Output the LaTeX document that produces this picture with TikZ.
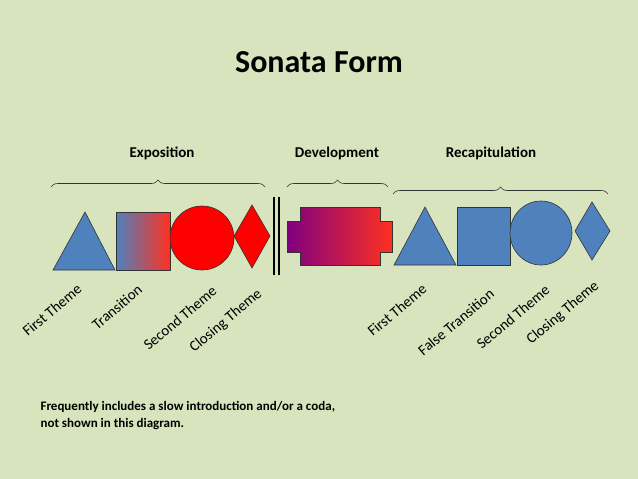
\documentclass[tikz,border=0pt]{standalone}
\usepackage{fontspec}
\setmainfont{Carlito}
\usetikzlibrary{shapes.geometric,decorations.pathreplacing}
\definecolor{bg}{HTML}{D7E4BD}
\definecolor{themeblue}{HTML}{4F81BD}
\definecolor{hotred}{HTML}{FF3020}
\definecolor{plum}{HTML}{800080}
\tikzset{
    outline/.style={draw=black!80,line width=0.6pt},
    bluefill/.style={outline,fill=themeblue},
    curly/.style={decorate,decoration={brace,amplitude=7pt},draw=black!80,line width=0.6pt},
    section/.style={font=\bfseries\fontsize{15}{18}\selectfont},
    partlabel/.style={font=\fontsize{15}{18}\selectfont,rotate=40,inner sep=0pt},
    }
\begin{document}
\begin{tikzpicture}[x=1pt,y=-1pt]
	\fill[bg] (0,0) rectangle (638,479);
	\useasboundingbox (0,0) rectangle (638,479);

	\node[font=\bfseries\fontsize{32}{38}\selectfont] (title) at (319,62) {Sonata Form};

	\node[section] (expo) at (162,153) {Exposition};
	\node[section] (devel) at (337,153) {Development};
	\node[section] (recap) at (491,153) {Recapitulation};

	% braces
	\draw[curly] (51,187) -- (265,187);
	\draw[curly] (287,187) -- (388,187);
	\draw[curly] (393,194) -- (608,194);

	% exposition
	\draw[bluefill] (85,212) -- (115,270) -- (53,270) -- cycle;
	\shade[left color=themeblue,right color=hotred] (116,212) rectangle (170,270);
	\draw[outline] (116,212) rectangle (170,270);
	\draw[outline,fill=red] (202,238) ellipse [x radius=32,y radius=32];
	\draw[outline,fill=red] (252,205) -- (270,236) -- (252,268) -- (234,236) -- cycle;

	% double bar
	\draw[line width=1.6pt] (274,197) -- (274,275);
	\draw[line width=1.6pt] (279,197) -- (279,275);

	% development
	\shade[left color=plum,right color=hotred]
		(287,221) -- (300,221) -- (300,207) -- (380,207) -- (380,221) -- (392,221)
		-- (392,252) -- (380,252) -- (380,265) -- (300,265) -- (300,252) -- (287,252) -- cycle;
	\draw[outline]
		(287,221) -- (300,221) -- (300,207) -- (380,207) -- (380,221) -- (392,221)
		-- (392,252) -- (380,252) -- (380,265) -- (300,265) -- (300,252) -- (287,252) -- cycle;

	% recapitulation
	\draw[bluefill] (425,207) -- (456,265) -- (394,265) -- cycle;
	\draw[bluefill] (457,207) rectangle (510,265);
	\draw[bluefill] (541,233) ellipse [x radius=31,y radius=32];
	\draw[bluefill] (592,202) -- (610,231) -- (592,260) -- (575,231) -- cycle;

	% part labels
	\node[partlabel] (ft1) at (52,310) {First Theme};
	\node[partlabel] (tr1) at (117,307) {Transition};
	\node[partlabel] (st1) at (180,318) {Second Theme};
	\node[partlabel] (ct1) at (226,321) {Closing Theme};
	\node[partlabel] (ft2) at (397,310) {First Theme};
	\node[partlabel] (fx2) at (456,322) {False Transition};
	\node[partlabel] (st2) at (513,317) {Second Theme};
	\node[partlabel] (ct2) at (563,313) {Closing Theme};

	\node[section,font=\bfseries\fontsize{13}{17}\selectfont,anchor=north west,align=left] (note) at (37,398)
		{Frequently includes a slow introduction and/or a coda,\\not shown in this diagram.};
\end{tikzpicture}
\end{document}
